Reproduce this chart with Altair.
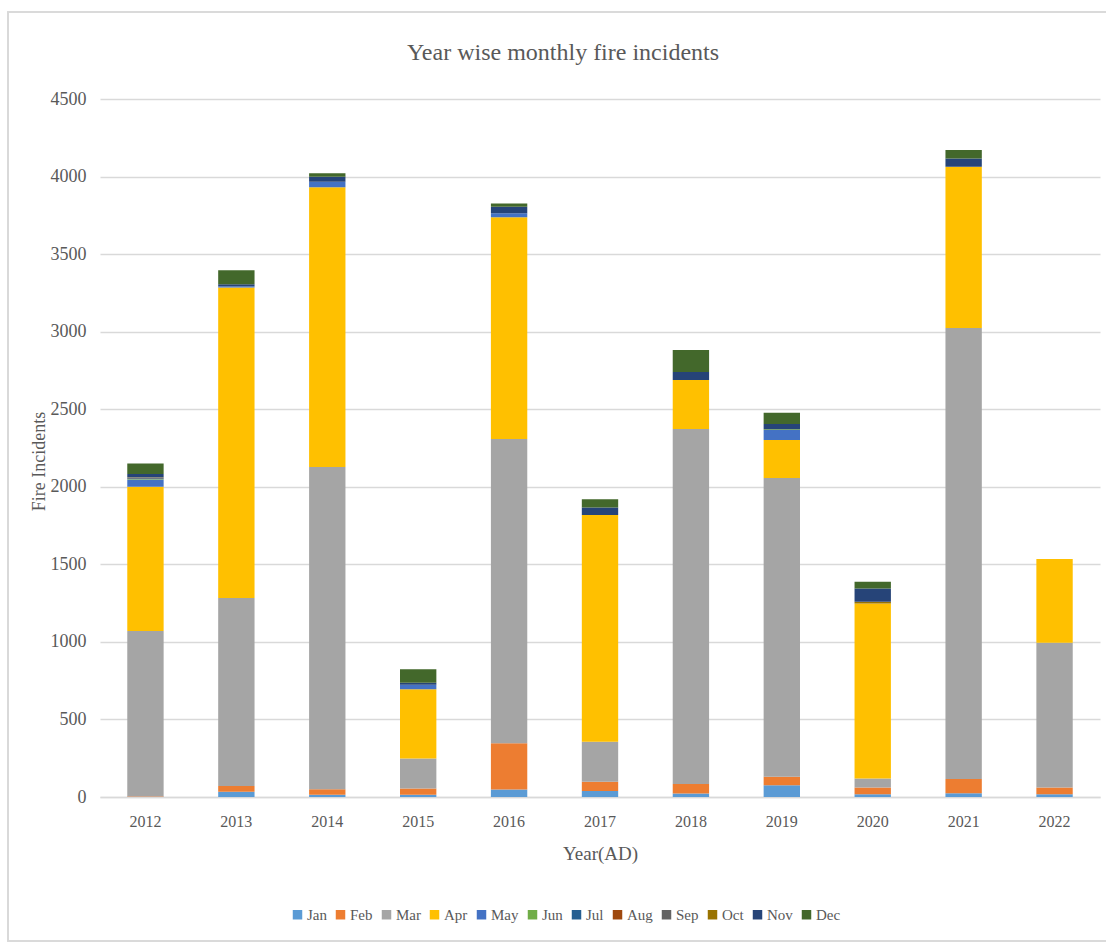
import altair as alt
import pandas as pd

years = ["2012", "2013", "2014", "2015", "2016", "2017", "2018", "2019", "2020", "2021", "2022"]
months = ["Jan", "Feb", "Mar", "Apr", "May", "Jun", "Jul", "Aug", "Sep", "Oct", "Nov", "Dec"]

# Monthly fire incidents, one list per month, ordered by year
jan = [2, 34, 15, 15, 48, 39, 22, 75, 17, 24, 17]
feb = [3, 37, 35, 39, 298, 60, 62, 56, 45, 92, 45]
mar = [1065, 1212, 2077, 195, 1962, 258, 2288, 1926, 58, 2908, 933]
apr = [930, 2002, 1804, 445, 1429, 1461, 316, 244, 1128, 1040, 540]
may = [47, 8, 36, 30, 26, 0, 0, 65, 0, 0, 0]
jun = [3, 0, 0, 0, 0, 0, 0, 5, 0, 0, 0]
jul = [5, 0, 0, 0, 0, 0, 0, 0, 0, 0, 0]
aug = [2, 0, 0, 0, 0, 0, 0, 0, 0, 0, 0]
sep = [3, 0, 0, 0, 0, 0, 0, 0, 0, 0, 0]
oct_ = [2, 0, 0, 0, 0, 0, 0, 0, 11, 0, 0]
nov = [20, 13, 32, 13, 43, 48, 52, 34, 86, 53, 0]
dec = [68, 90, 22, 86, 21, 53, 142, 73, 43, 54, 0]

series = [jan, feb, mar, apr, may, jun, jul, aug, sep, oct_, nov, dec]
colors = ["#5B9BD5", "#ED7D31", "#A5A5A5", "#FFC000", "#4472C4", "#70AD47",
          "#255E91", "#9E480E", "#636363", "#997300", "#264478", "#43682B"]

rows = []
for mi, (m, vals) in enumerate(zip(months, series)):
    for y, v in zip(years, vals):
        rows.append({"Year": y, "Month": m, "idx": mi, "Incidents": v})
df = pd.DataFrame(rows)

FONT = "Liberation Serif"
GREY = "#595959"

bars = (
    alt.Chart(df)
    .mark_bar()
    .encode(
        x=alt.X(
            "Year:N",
            sort=years,
            scale=alt.Scale(paddingInner=0.6, paddingOuter=0.3),
            axis=alt.Axis(
                title="Year(AD)", labelAngle=0, ticks=False, domainColor="#D9D9D9",
                domainWidth=1.3, labelPadding=16, titlePadding=15, labelFontSize=16,
                titleFontSize=19, grid=False,
            ),
        ),
        y=alt.Y(
            "Incidents:Q",
            stack="zero",
            scale=alt.Scale(domain=[0, 4500], nice=False),
            axis=alt.Axis(
                title="Fire Incidents", values=list(range(0, 4501, 500)), format="d",
                ticks=False, domain=False, labelPadding=14, labelFontSize=18,
                titleFontSize=18, gridColor="#D9D9D9", gridWidth=1.3,
                titleX=-70, titleY=362, titleAngle=270, titleBaseline="top",
            ),
        ),
        color=alt.Color(
            "Month:N",
            sort=months,
            scale=alt.Scale(domain=months, range=colors),
            legend=alt.Legend(
                title=None, orient="none", direction="horizontal", columns=12,
                legendX=190, legendY=808, symbolType="square", symbolSize=90,
                symbolStrokeWidth=0, labelFontSize=15, labelOffset=2, columnPadding=6,
            ),
        ),
        order=alt.Order("idx:Q", sort="ascending"),
    )
)

# light outer frame around the whole figure
frame = (
    alt.Chart(df)
    .mark_rect(fill=None, stroke="#D9D9D9", strokeWidth=1.2)
    .encode(x=alt.value(-92), x2=alt.value(1020), y=alt.value(-87), y2=alt.value(842))
)

chart = (
    alt.layer(frame, bars)
    .properties(
        width=1000,
        height=698,
        title=alt.Title(
            "Year wise monthly fire incidents", fontSize=24, font=FONT,
            color=GREY, fontWeight="normal", anchor="middle", offset=-54, dx=-37,
        ),
        autosize=alt.AutoSizeParams(type="none"),
        padding={"left": 100, "top": 99, "right": 6, "bottom": 147},
    )
    .configure_axis(
        labelFont=FONT, titleFont=FONT, labelColor=GREY, titleColor=GREY,
        titleFontWeight="normal",
    )
    .configure_legend(labelFont=FONT, labelColor=GREY)
    .configure_view(stroke=None)
)

chart.save("out.html", embed_options={"renderer": "svg", "actions": False})
